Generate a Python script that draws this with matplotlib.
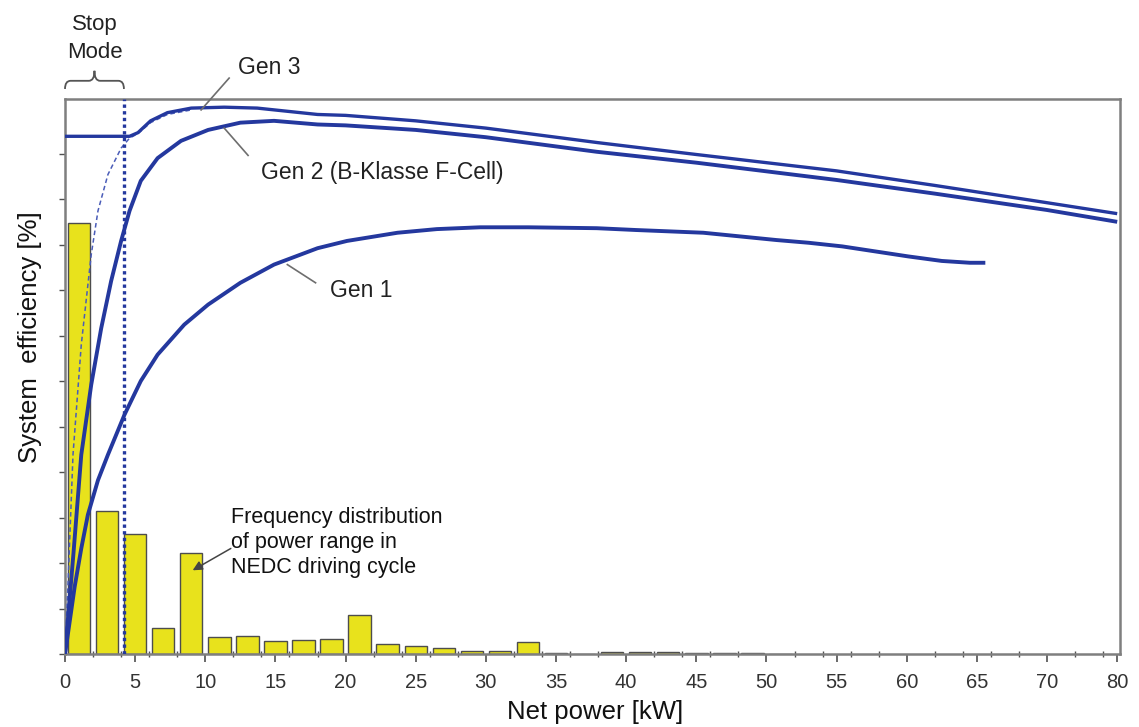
import matplotlib
matplotlib.use("Agg")
import matplotlib.pyplot as plt
from matplotlib.path import Path
from matplotlib.patches import PathPatch

plt.rcParams["font.family"] = ["Liberation Sans", "DejaVu Sans"]

# frequency distribution of power range (NEDC), 2 kW bins
bin_centers = [1, 3, 5, 7, 9, 11, 13, 15, 17, 19, 21, 23, 25, 27, 29, 31, 33,
               35, 37, 39, 41, 43, 45, 47, 49, 51]
freq = [47.4, 15.7, 13.2, 2.9, 11.1, 1.9, 2.0, 1.43, 1.54, 1.65, 4.3, 1.07, 0.9,
        0.7, 0.37, 0.35, 1.27, 0.1, 0.04, 0.22, 0.22, 0.22, 0.15, 0.12, 0.12, 0.05]

# system efficiency curves
gen1_x = [0, 0.3, 0.69, 1.16, 1.63, 2.35, 3.06, 4.24, 5.4, 6.6, 8.5, 10.2, 12.5,
          14.9, 18.0, 20.1, 23.7, 26.5, 29.6, 33, 37.9, 40.7, 45.5, 50.7, 53.0,
          55.4, 60.1, 62.5, 64.5, 65.6]
gen1_y = [0, 3.2, 7.4, 11.6, 15.3, 19.1, 21.9, 26.3, 30.0, 32.9, 36.2, 38.4, 40.8,
          42.8, 44.6, 45.4, 46.3, 46.7, 46.9, 46.9, 46.8, 46.6, 46.3, 45.5, 45.2,
          44.8, 43.7, 43.2, 43.0, 43.0]

gen2_x = [0, 0.6, 1.16, 1.87, 2.58, 3.29, 4.0, 4.6, 5.4, 6.6, 8.27, 10.2, 12.5,
          14.9, 18.0, 20, 25, 30, 37.9, 45, 55, 62, 70, 75]
gen2_y = [0, 11.0, 21.9, 29.6, 35.8, 41.0, 45.4, 48.7, 52.0, 54.5, 56.4, 57.6, 58.4,
          58.6, 58.2, 58.1, 57.6, 56.8, 55.2, 54.0, 52.1, 50.6, 48.8, 47.5]

gen3_x = [0, 4.6, 5.2, 6.1, 7.3, 9.0, 11.35, 13.7, 18.0, 20, 25, 30, 38, 45, 55,
          62, 70, 75]
gen3_y = [56.9, 56.9, 57.3, 58.6, 59.5, 60.0, 60.1, 60.0, 59.3, 59.2, 58.6, 57.8,
          56.2, 54.9, 53.1, 51.5, 49.6, 48.4]

gen3_start_x = [0, 0.21, 0.57, 1.16, 1.87, 2.35, 3.06, 4.0, 4.6, 5.2, 6.1, 7.3, 9.0]
gen3_start_y = [0, 7.5, 21.9, 34.0, 43.9, 48.7, 52.7, 55.6, 56.7, 57.2, 58.4, 59.3, 59.8]

stop_mode_x = 4.2

x_ticks = [0, 5, 10, 15, 20, 25, 30, 35, 40, 45, 50, 55, 60, 65, 70, 75]
x_tick_labels = ["0", "5", "10", "15", "20", "25", "30", "35", "40", "45", "50",
                 "55", "60", "65", "70", "80"]

blue = "#24389e"
grey = "#7f7f7f"

fig = plt.figure(figsize=(11.39, 7.27), dpi=100)
ax = fig.add_axes([65 / 1139, 73 / 727, (1120 - 65) / 1139, (654 - 99) / 727])

ax.bar(bin_centers, freq, width=1.6, color="#e8e21c", edgecolor="#4d4d4d",
       linewidth=1.0, zorder=2)

ax.plot(gen3_start_x, gen3_start_y, color="#4a5cb8", lw=1.1, ls=(0, (3, 2)), zorder=3)
ax.plot(gen1_x, gen1_y, color=blue, lw=2.8, zorder=4, solid_capstyle="butt")
ax.plot(gen2_x, gen2_y, color=blue, lw=2.8, zorder=4, solid_capstyle="butt")
ax.plot(gen3_x, gen3_y, color=blue, lw=2.4, zorder=4, solid_capstyle="butt")
ax.plot([stop_mode_x, stop_mode_x], [0, 61], color=blue, lw=2.4, ls=(0, (1, 1)), zorder=5)

ax.set_xlim(0, 75.2)
ax.set_ylim(0, 61)
ax.set_xticks(x_ticks)
ax.set_xticklabels(x_tick_labels)
ax.set_xticks(range(0, 75, 2), minor=True)
ax.set_yticks(range(0, 60, 5))
ax.set_yticklabels([])
ax.tick_params(axis="x", which="major", direction="out", length=6, width=1.2,
               color="#505050", labelsize=14.5, labelcolor="#333333", pad=8)
ax.tick_params(axis="x", which="minor", direction="inout", length=4, width=1,
               color="#505050")
ax.tick_params(axis="y", which="major", direction="out", length=4, width=1,
               color="#505050")
for s in ax.spines.values():
    s.set_color(grey)
    s.set_linewidth(1.8)

# curly brace for the stop mode
verts = [(0, 62.1), (0, 63.0), (0.4, 63.0), (1.7, 63.0), (2.1, 63.0), (2.1, 64.1),
         (2.1, 63.0), (2.5, 63.0), (3.8, 63.0), (4.2, 63.0), (4.2, 62.1)]
codes = [Path.MOVETO, Path.CURVE3, Path.CURVE3, Path.LINETO, Path.CURVE3, Path.CURVE3,
         Path.CURVE3, Path.CURVE3, Path.LINETO, Path.CURVE3, Path.CURVE3]
ax.add_patch(PathPatch(Path(verts, codes), fill=False, edgecolor="#555555", lw=1.3,
                       clip_on=False))
ax.text(2.15, 69.2, "Stop", ha="center", va="center", fontsize=16, color="#222222")
ax.text(2.15, 66.1, "Mode", ha="center", va="center", fontsize=16, color="#222222")

# curve labels with leader lines
line_kw = dict(color="#6e6e6e", lw=1.2, clip_on=False, zorder=6)
ax.plot([11.7, 9.7], [63.3, 59.8], **line_kw)
ax.text(12.3, 64.5, "Gen 3", ha="left", va="center", fontsize=16.5, color="#222222")
ax.plot([11.35, 13.05], [57.8, 54.8], **line_kw)
ax.text(14.0, 52.9, "Gen 2 (B-Klasse F-Cell)", ha="left", va="center", fontsize=16.5,
        color="#222222")
ax.plot([15.85, 17.86], [42.8, 40.8], **line_kw)
ax.text(18.9, 39.9, "Gen 1", ha="left", va="center", fontsize=16.5, color="#222222")

ax.annotate("", xy=(9.1, 9.2), xytext=(11.82, 11.6),
            arrowprops=dict(arrowstyle="-|>", color="#444444", lw=1.1,
                            mutation_scale=14, shrinkA=0, shrinkB=0), zorder=6)
ax.text(11.8, 15.0, "Frequency distribution", ha="left", va="center", fontsize=15.5,
        color="#111111")
ax.text(11.8, 12.25, "of power range in", ha="left", va="center", fontsize=15.5,
        color="#111111")
ax.text(11.8, 9.5, "NEDC driving cycle", ha="left", va="center", fontsize=15.5,
        color="#111111")

fig.text(30 / 1139, 1 - 337 / 727, "System  efficiency [%]", rotation=90,
         ha="center", va="center", fontsize=18.5, color="#111111")
fig.text(595 / 1139, 1 - 712 / 727, "Net power [kW]", ha="center", va="center",
         fontsize=18.5, color="#111111")

fig.savefig("out.png", dpi=100)
